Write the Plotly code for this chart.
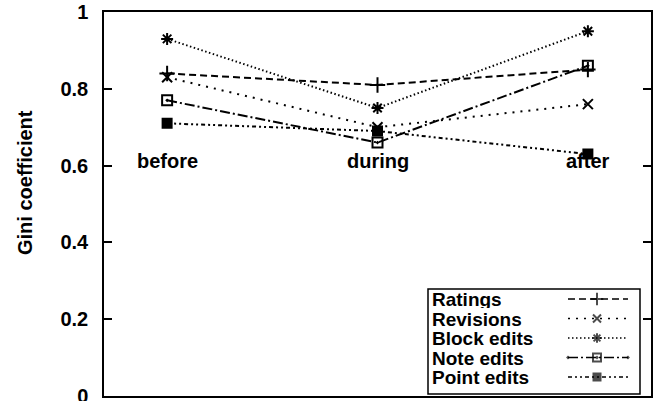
import plotly.graph_objects as go

# ---- data ----
categories = ["before", "during", "after"]
ratings = [0.84, 0.81, 0.85]
revisions = [0.83, 0.70, 0.76]
block_edits = [0.93, 0.75, 0.95]
note_edits = [0.77, 0.66, 0.86]
point_edits = [0.71, 0.69, 0.63]
series_names = ["Ratings", "Revisions", "Block edits", "Note edits", "Point edits"]
y_ticks = [0, 0.2, 0.4, 0.6, 0.8, 1]

# ---- layout geometry (page pixels) ----
W, H = 657, 401
X0, X1, Y0, Y1 = 104, 651, 12, 396   # plot area
L, T = X0, Y0
R, B = W - X1, H - Y1
PW, PH = X1 - X0, Y1 - Y0
FONT = "Liberation Sans, Arial, sans-serif"

styles = [
    dict(dash="7px,4px", symbol="cross-thin-open", size=11, lsize=9),
    dict(dash="2px,6px", symbol="x-thin-open", size=10, lsize=8),
    dict(dash="1.5px,2.5px", symbol="asterisk-open", size=10, lsize=8),
    dict(dash="10px,3px,2px,3px", symbol="square-open-dot", size=10, lsize=8),
    dict(dash="4px,3px,2px,3px,2px,3px", symbol="square", size=9, lsize=7),
]
values = [ratings, revisions, block_edits, note_edits, point_edits]

def px(x):
    return (x - X0) / PW

def py(y):
    return (Y1 - y) / PH

xs = list(range(len(categories)))
fig = go.Figure()
for name, vals, st in zip(series_names, values, styles):
    fig.add_trace(go.Scatter(
        x=xs, y=vals, name=name, mode="lines+markers",
        line=dict(color="black", width=2, dash=st["dash"]),
        marker=dict(symbol=st["symbol"], size=st["size"], color="black",
                    line=dict(color="black", width=2)),
        showlegend=False, cliponaxis=False,
    ))

# ---- custom legend (text left, sample right) ----
shapes = [dict(type="rect", xref="paper", yref="paper",
               x0=px(428), x1=px(640), y0=py(394), y1=py(289),
               line=dict(color="black", width=1.5), fillcolor="white", layer="below")]
annotations = []
for i, (name, st) in enumerate(zip(series_names, styles)):
    yy = 299 + 19.5 * i
    annotations.append(dict(text=name, xref="paper", yref="paper", x=px(430), y=py(yy),
                            xanchor="left", yanchor="middle", showarrow=False, height=18,
                            font=dict(family=FONT, size=19, color="black", weight="bold")))
    fig.add_trace(go.Scatter(
        x=[px(568), px(597), px(628)], y=[py(yy)] * 3, xaxis="x2", yaxis="y2",
        mode="lines+markers",
        line=dict(color="black", width=1.5, dash=st["dash"]),
        marker=dict(symbol=st["symbol"], size=[0, st["lsize"], 0], color="black",
                    line=dict(color="black", width=2)),
        showlegend=False, hoverinfo="skip", cliponaxis=False,
    ))

# category labels inside the plot
for i, c in enumerate(categories):
    annotations.append(dict(text=c, x=i, y=0.613, xref="x", yref="y", showarrow=False,
                            xanchor="center", yanchor="middle",
                            font=dict(family=FONT, size=20, color="black", weight="bold")))

# y axis title
annotations.append(dict(text="Gini coefficient", xref="paper", yref="paper",
                        x=px(25), y=py(183), textangle=-90, showarrow=False,
                        xanchor="center", yanchor="middle",
                        font=dict(family=FONT, size=20, color="black", weight="bold")))

fig.update_layout(
    width=W, height=H, autosize=False,
    margin=dict(l=L, r=R, t=T, b=B, autoexpand=False),
    plot_bgcolor="white", paper_bgcolor="white",
    showlegend=False,
    xaxis=dict(range=[-0.3, 2.3], showticklabels=False, ticks="", showgrid=False,
               zeroline=False, showline=True, linecolor="black", linewidth=1.5, mirror=True,
               automargin=False),
    yaxis=dict(range=[0, 1], tickvals=y_ticks, ticks="inside", ticklen=8, tickwidth=1.5,
               tickcolor="black", showgrid=False, zeroline=False, showline=True,
               linecolor="black", linewidth=1.5, mirror="ticks", ticklabelstandoff=10,
               ticklabeloverflow="allow", automargin=False,
               tickfont=dict(family=FONT, size=20, color="black", weight="bold")),
    xaxis2=dict(range=[0, 1], overlaying="x", visible=False, domain=[0, 1]),
    yaxis2=dict(range=[0, 1], overlaying="y", visible=False, domain=[0, 1]),
    shapes=shapes,
    annotations=annotations,
)

fig.write_html("out.html", config={"displayModeBar": False},
               post_script="document.body.style.margin='0';")
